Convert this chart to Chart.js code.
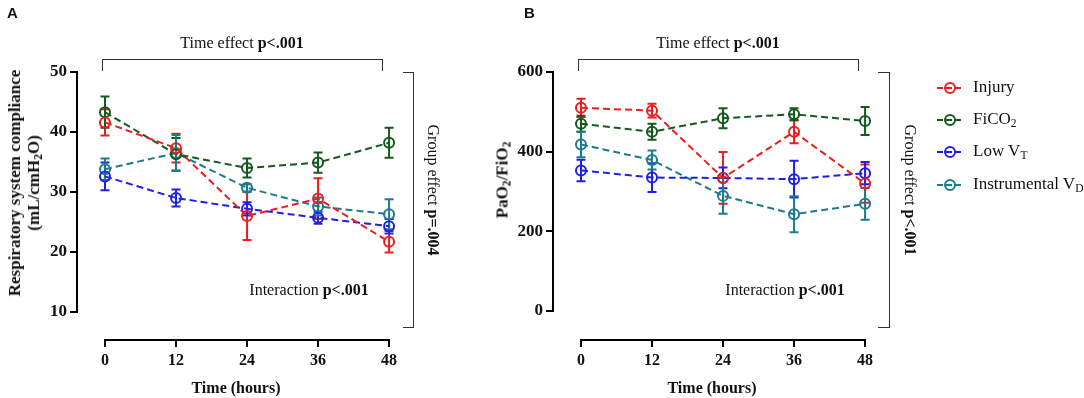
<!DOCTYPE html>
<html>
<head>
<meta charset="utf-8">
<script src="https://cdn.jsdelivr.net/npm/chart.js@4.4.1/dist/chart.umd.min.js"></script>
<style>
  html, body { margin: 0; padding: 0; background: #fff; }
  #wrap { position: relative; width: 1084px; height: 398px; overflow: hidden; font-family: "Liberation Serif", "DejaVu Serif", serif; color: #111; }
  canvas { position: absolute; top: 0; }
  .t { position: absolute; white-space: nowrap; font-size: 16px; line-height: 1; }
  .lg { font-size: 17px; }
  .c { transform: translate(-50%, -50%); }
  .rl { transform: translate(-50%, -50%) rotate(-90deg); }
  .rr { transform: translate(-50%, -50%) rotate(90deg); }
  .sub { font-size: 0.68em; position: relative; top: 0.3em; }
  .br { position: absolute; border: 1.5px solid #333; box-sizing: border-box; }
  .lab { position: absolute; font-family: "Liberation Sans", Arial, sans-serif; font-weight: bold; font-size: 15px; }
  .mk { position: absolute; width: 24px; height: 12px; }
  .mk .ln { position: absolute; left: 0; right: 0; top: 5px; border-top: 2px dashed; }
  .mk .ci { position: absolute; left: 7px; top: 0; width: 8px; height: 8px; border: 2px solid; border-radius: 50%; background: transparent; }
</style>
</head>
<body>
<div id="wrap">
  <canvas id="cA" width="542" height="398" style="left:0;width:542px;height:398px"></canvas>
  <canvas id="cB" width="614" height="398" style="left:470px;width:614px;height:398px"></canvas>

  <div class="lab" style="left:7px;top:4px">A</div>
  <div class="lab" style="left:524px;top:4px">B</div>

  <!-- Panel A annotations -->
  <div class="t c" style="left:242px;top:43px">Time effect <b>p&lt;.001</b></div>
  <div class="br" style="left:102px;top:59px;width:281px;height:12px;border-bottom:none"></div>
  <div class="br" style="left:403px;top:72px;width:11px;height:256px;border-left:none"></div>
  <div class="t rr" style="left:433px;top:190px">Group effect <b>p=.004</b></div>
  <div class="t c" style="left:309px;top:290px">Interaction <b>p&lt;.001</b></div>
  <div class="t rl" style="left:25px;top:183px;text-align:center;font-weight:bold;font-size:17px;line-height:19px">Respiratory system compliance<br>(mL/cmH<span class="sub">2</span>O)</div>

  <!-- Panel B annotations -->
  <div class="t c" style="left:718px;top:43px">Time effect <b>p&lt;.001</b></div>
  <div class="br" style="left:578px;top:59px;width:281px;height:12px;border-bottom:none"></div>
  <div class="br" style="left:878px;top:72px;width:12px;height:256px;border-left:none"></div>
  <div class="t rr" style="left:910px;top:190px">Group effect <b>p&lt;.001</b></div>
  <div class="t c" style="left:785px;top:290px">Interaction <b>p&lt;.001</b></div>
  <div class="t rl" style="left:502px;top:180px;font-weight:bold;font-size:17px">PaO<span class="sub">2</span>/FiO<span class="sub">2</span></div>

  <div id="legend"></div>
</div>

<script>
// ---------- DATA ----------
const hours = [0, 12, 24, 36, 48];
const xTicks = [0, 12, 24, 36, 48];
const yTicksA = [10, 20, 30, 40, 50];
const yTicksB = [0, 200, 400, 600];

const seriesNames = ["Injury", "FiCO2", "Low VT", "Instrumental VD"];
const seriesLabelsHtml = ["Injury", "FiCO<span class='sub'>2</span>", "Low V<span class='sub'>T</span>", "Instrumental V<span class='sub'>D</span>"];
const seriesColors = ["#ee1c1c", "#14591e", "#1f1fe8", "#1b7b8f"];

// Panel A: respiratory system compliance (mean, error)
const injuryA = [41.6, 37.3, 26.0, 28.9, 21.7];
const injuryAErr = [2.2, 2.4, 4.0, 3.4, 1.8];
const fico2A = [43.3, 36.3, 34.0, 34.9, 38.2];
const fico2AErr = [2.6, 2.7, 1.6, 1.7, 2.5];
const lowVtA = [32.6, 29.0, 27.2, 25.7, 24.3];
const lowVtAErr = [2.3, 1.4, 1.1, 1.0, 1.2];
const instVdA = [33.8, 36.5, 30.7, 27.6, 26.3];
const instVdAErr = [1.8, 3.0, 0.6, 1.5, 2.5];

// Panel B: PaO2/FiO2 (mean, error)
const injuryB = [510, 503, 334, 450, 320];
const injuryBErr = [23, 17, 65, 29, 48];
const fico2B = [470, 450, 484, 494, 477];
const fico2BErr = [20, 20, 25, 15, 35];
const lowVtB = [353, 335, 334, 331, 346];
const lowVtBErr = [27, 36, 26, 46, 28];
const instVdB = [418, 379, 289, 243, 269];
const instVdBErr = [32, 24, 45, 45, 40];

// ---------- HELPERS ----------
function mkDatasets(means, errs) {
  return means.map((m, i) => ({
    label: seriesNames[i],
    data: hours.map((h, j) => ({ x: h, y: m[j], err: errs[i][j] })),
    borderColor: seriesColors[i],
    backgroundColor: 'rgba(0,0,0,0)',
    borderWidth: 2,
    borderDash: [7, 4],
    pointRadius: 5,
    pointBorderWidth: 2,
    pointBackgroundColor: 'rgba(0,0,0,0)',
    pointBorderColor: seriesColors[i],
    tension: 0,
    clip: false
  }));
}

const errorBars = {
  id: 'errorBars',
  beforeDatasetsDraw(chart) {
    const ctx = chart.ctx;
    const ys = chart.scales.y, xs = chart.scales.x;
    chart.data.datasets.forEach((ds) => {
      ctx.save();
      ctx.strokeStyle = ds.borderColor;
      ctx.lineWidth = 2;
      ds.data.forEach((p) => {
        const px = xs.getPixelForValue(p.x);
        const top = ys.getPixelForValue(p.y + p.err);
        const bot = ys.getPixelForValue(p.y - p.err);
        ctx.beginPath();
        ctx.moveTo(px, top); ctx.lineTo(px, bot);
        ctx.moveTo(px - 4.5, top); ctx.lineTo(px + 4.5, top);
        ctx.moveTo(px - 4.5, bot); ctx.lineTo(px + 4.5, bot);
        ctx.stroke();
      });
      ctx.restore();
    });
  }
};

const axisLines = {
  id: 'axisLines',
  afterDraw(chart, args, opts) {
    const ctx = chart.ctx;
    const ys = chart.scales.y, xs = chart.scales.x;
    const yt = opts.yTicks;
    ctx.save();
    ctx.strokeStyle = '#000';
    ctx.lineWidth = 2;
    ctx.beginPath();
    const ax = chart.chartArea.left;
    ctx.moveTo(ax, ys.getPixelForValue(yt[0]) + 1);
    ctx.lineTo(ax, ys.getPixelForValue(yt[yt.length - 1]) - 1);
    const ay = chart.chartArea.bottom;
    ctx.moveTo(xs.getPixelForValue(xTicks[0]) - 1, ay);
    ctx.lineTo(xs.getPixelForValue(xTicks[xTicks.length - 1]) + 1, ay);
    ctx.stroke();
    ctx.restore();
  }
};

function makeChart(id, datasets, yMin, yMax, yTicks, yWidth, padRight) {
  const tickFont = { family: "'Liberation Serif', serif", size: 16, weight: 'bold' };
  const yTickFont = { family: "'Liberation Serif', serif", size: 17, weight: 'bold' };
  return new Chart(document.getElementById(id), {
    type: 'line',
    data: { datasets },
    options: {
      responsive: false,
      animation: false,
      devicePixelRatio: 1,
      layout: { padding: { left: 0, top: 72, right: padRight, bottom: 0 } },
      plugins: { legend: { display: false }, tooltip: { enabled: false }, axisLines: { yTicks } },
      scales: {
        x: {
          type: 'linear', min: -4.73, max: 49,
          afterBuildTicks: (s) => { s.ticks = xTicks.map(v => ({ value: v })); },
          afterFit: (s) => { s.height = 58; },
          grid: { drawOnChartArea: false, drawTicks: true, tickLength: 7, color: '#000', lineWidth: 2 },
          border: { display: false },
          ticks: { color: '#111', font: tickFont, padding: 4, maxRotation: 0, autoSkip: false },
          title: { display: true, text: 'Time (hours)', color: '#111', font: tickFont, padding: { top: 0, bottom: 0 } }
        },
        y: {
          type: 'linear', min: yMin, max: yMax,
          afterBuildTicks: (s) => { s.ticks = yTicks.map(v => ({ value: v })); },
          afterFit: (s) => { s.width = yWidth; },
          grid: { drawOnChartArea: false, drawTicks: true, tickLength: 7, color: '#000', lineWidth: 2 },
          border: { display: false },
          ticks: { color: '#111', font: yTickFont, padding: 3 }
        }
      }
    },
    plugins: [errorBars, axisLines]
  });
}

makeChart('cA',
  mkDatasets([injuryA, fico2A, lowVtA, instVdA], [injuryAErr, fico2AErr, lowVtAErr, instVdAErr]),
  50 - 268 / 6, 50, yTicksA, 77, 147);

makeChart('cB',
  mkDatasets([injuryB, fico2B, lowVtB, instVdB], [injuryBErr, fico2BErr, lowVtBErr, instVdBErr]),
  -29 * 600 / 239, 600, yTicksB, 83, 213);

// ---------- LEGEND ----------
const legendRows = [88, 120, 152, 185];
const leg = document.getElementById('legend');
seriesNames.forEach((n, i) => {
  const mk = document.createElement('div');
  mk.className = 'mk';
  mk.style.left = '937px';
  mk.style.top = (legendRows[i] - 6) + 'px';
  mk.innerHTML = `<div class="ln" style="border-color:${seriesColors[i]}"></div><div class="ci" style="border-color:${seriesColors[i]}"></div>`;
  leg.appendChild(mk);
  const t = document.createElement('div');
  t.className = 't lg';
  t.style.left = '973px';
  t.style.top = (legendRows[i] - 10) + 'px';
  t.innerHTML = seriesLabelsHtml[i];
  leg.appendChild(t);
});
</script>
</body>
</html>
